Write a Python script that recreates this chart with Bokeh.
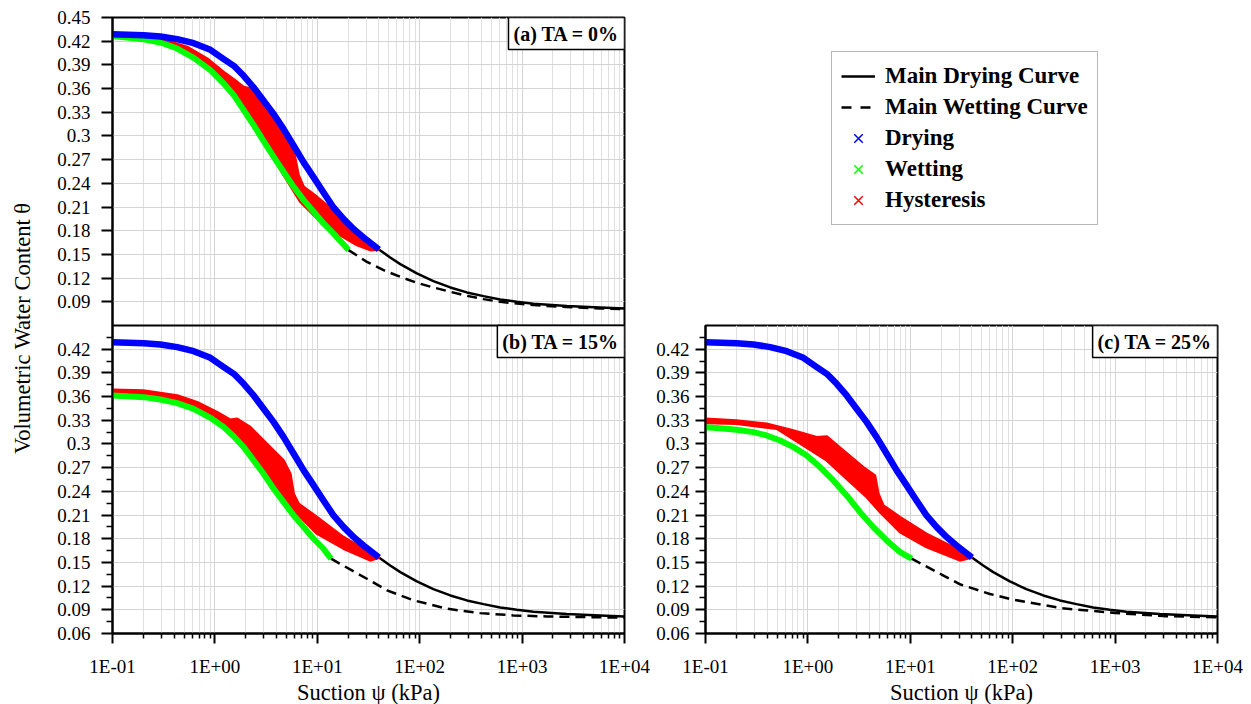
from bokeh.plotting import figure
from bokeh.models import Range1d, FixedTicker, Span, Label, Legend, LegendItem
from bokeh.layouts import row, column
from bokeh.embed import file_html
from bokeh.resources import INLINE

# ---------------- data ----------------
x_ticks = [0.1, 1, 10, 100, 1000, 10000]
x_tick_labels = ["1E-01", "1E+00", "1E+01", "1E+02", "1E+03", "1E+04"]
x_minor = [m * d for d in [0.1, 1, 10, 100, 1000] for m in range(2, 10)]

y_ticks_b = [0.06, 0.09, 0.12, 0.15, 0.18, 0.21, 0.24, 0.27, 0.30, 0.33, 0.36, 0.39, 0.42]
y_labels_b = ["0.06", "0.09", "0.12", "0.15", "0.18", "0.21", "0.24", "0.27", "0.3", "0.33", "0.36", "0.39", "0.42"]
y_minor_b = [0.075, 0.105, 0.135, 0.165, 0.195, 0.225, 0.255, 0.285, 0.315, 0.345, 0.375, 0.405, 0.435]
y_ticks_a = [0.09, 0.12, 0.15, 0.18, 0.21, 0.24, 0.27, 0.30, 0.33, 0.36, 0.39, 0.42, 0.45]
y_labels_a = ["0.09", "0.12", "0.15", "0.18", "0.21", "0.24", "0.27", "0.3", "0.33", "0.36", "0.39", "0.42", "0.45"]

# main drying path (blue points), same in every panel
dry_psi = [0.1, 0.202, 0.294, 0.428, 0.621, 0.904, 1.22, 1.53, 1.91, 2.39, 2.99, 3.75, 4.69,
           5.88, 7.36, 9.21, 11.5, 14.4, 18.1, 22.6, 28.3, 40]
dry_theta = [0.4289, 0.4276, 0.426, 0.4226, 0.4175, 0.4091, 0.3973, 0.3888, 0.3762, 0.3614, 0.3445,
             0.3276, 0.3087, 0.2876, 0.2665, 0.2475, 0.2285, 0.2095, 0.1947, 0.1821, 0.1715, 0.1562]

# main drying curve (black solid) beyond the points
mdc_psi = [40, 51.5, 64.6, 93.8, 136, 199, 289, 420, 610, 887, 1289, 2729, 5768, 10000]
mdc_theta = [0.1562, 0.1462, 0.1377, 0.126, 0.1162, 0.1082, 0.1019, 0.0972, 0.093, 0.09, 0.0875,
             0.0846, 0.0829, 0.0815]

# (a) TA = 0%
wet_a_psi = [0.1, 0.202, 0.294, 0.428, 0.621, 0.904, 1.22, 1.53, 1.91, 2.39, 2.99, 3.75, 4.69,
             5.88, 7.36, 9.21, 11.5, 14.4, 20.2]
wet_a_theta = [0.4267, 0.4225, 0.4183, 0.4107, 0.3989, 0.3833, 0.3664, 0.3516, 0.3327, 0.3137, 0.2934,
               0.2736, 0.2546, 0.2356, 0.2187, 0.204, 0.1892, 0.1765, 0.1555]
mwc_a_psi = [20.2, 30.5, 44.4, 64.6, 93.8, 136, 199, 289, 420, 610, 1289, 2729, 5768, 10000]
mwc_a_theta = [0.1555, 0.1406, 0.1301, 0.1216, 0.114, 0.1082, 0.1027, 0.0976, 0.0934, 0.09, 0.0858,
               0.0833, 0.0816, 0.0807]
hys_a_up_psi = [0.1, 0.294, 0.536, 0.84, 1.22, 1.65, 1.91, 2.22, 2.78, 4.04, 5.66, 6.1, 6.57, 7.36,
                9.93, 15.6, 24.4, 40]
hys_a_up_theta = [0.430, 0.4234, 0.4128, 0.398, 0.381, 0.3685, 0.362, 0.360, 0.346, 0.317, 0.2862,
                  0.2715, 0.2504, 0.2356, 0.2229, 0.2019, 0.1808, 0.1562]
hys_a_lo_psi = [32.9, 24.4, 15.6, 9.93, 6.82, 4.69, 3.23, 2.22, 1.52, 0.9, 0.43, 0.2, 0.1]
hys_a_lo_theta = [0.1554, 0.1618, 0.1766, 0.1956, 0.2166, 0.2504, 0.2842, 0.3178, 0.3516, 0.3854,
                  0.4128, 0.4244, 0.4276]

# (b) TA = 15%
wet_b_psi = [0.1, 0.202, 0.294, 0.428, 0.621, 0.904, 1.22, 1.53, 1.91, 2.39, 2.99, 3.75, 4.69,
             5.88, 7.36, 9.21, 11.5, 13.6]
wet_b_theta = [0.3614, 0.3593, 0.3563, 0.3517, 0.3445, 0.3331, 0.3213, 0.3095, 0.296, 0.2791, 0.2622,
               0.2433, 0.2264, 0.2095, 0.1947, 0.18, 0.1673, 0.1547]
mwc_b_psi = [13.6, 30.5, 48, 87, 184, 389, 822, 1740, 10000]
mwc_b_theta = [0.1547, 0.1293, 0.1146, 0.102, 0.0914, 0.0858, 0.0829, 0.0816, 0.080]
hys_b_up_psi = [0.1, 0.2, 0.43, 0.67, 1.05, 1.42, 1.65, 2.22, 3.23, 4.69, 5.46, 5.88, 6.58, 9.93,
                18.1, 28.3, 40]
hys_b_up_theta = [0.3686, 0.3678, 0.3614, 0.3529, 0.3403, 0.3306, 0.3318, 0.3213, 0.3002, 0.2791,
                  0.2623, 0.237, 0.2243, 0.2074, 0.182, 0.1673, 0.1562]
hys_b_lo_psi = [32.9, 18.1, 9.93, 5.88, 4.04, 2.78, 1.91, 1.22, 0.67, 0.294, 0.1]
hys_b_lo_theta = [0.1525, 0.1673, 0.1863, 0.2158, 0.2411, 0.2665, 0.2939, 0.3213, 0.3458, 0.3593, 0.3635]

# (c) TA = 25%
wet_c_psi = [0.1, 0.139, 0.202, 0.294, 0.396, 0.535, 0.723, 0.974, 1.31, 1.77, 2.39, 3.23, 4.35,
             5.88, 7.93, 10.3]
wet_c_theta = [0.3213, 0.32, 0.3179, 0.315, 0.3108, 0.3044, 0.296, 0.2854, 0.2707, 0.2538, 0.2348,
               0.2137, 0.1947, 0.1778, 0.1631, 0.1547]
mwc_c_psi = [10.3, 20, 31, 60, 100, 300, 1000, 3000, 10000]
mwc_c_theta = [0.1547, 0.135, 0.122, 0.11, 0.103, 0.092, 0.086, 0.082, 0.0805]
hys_c_up_psi = [0.1, 0.2, 0.396, 0.72, 1.22, 1.53, 2.22, 3.48, 4.52, 4.88, 5.46, 7.93, 14.4, 26.3, 39.6]
hys_c_up_theta = [0.3319, 0.3298, 0.3256, 0.3171, 0.3086, 0.3094, 0.2918, 0.2706, 0.2601, 0.237,
                  0.2222, 0.2074, 0.1863, 0.1694, 0.1562]
hys_c_lo_psi = [30.5, 14.4, 7.93, 5.06, 3.75, 2.39, 1.53, 0.9, 0.497, 0.2, 0.1]
hys_c_lo_theta = [0.1525, 0.1694, 0.1884, 0.2137, 0.2327, 0.2559, 0.2791, 0.2981, 0.3192, 0.3256, 0.3264]

panel_labels = ["(a) TA = 0%", "(b) TA = 15%", "(c) TA = 25%"]
legend_labels = ["Main Drying Curve", "Main Wetting Curve", "Drying", "Wetting", "Hysteresis"]

# ---------------- styling ----------------
FONT = "Liberation Serif"
OFF_A = 0.39           # panel (a) is stacked above panel (b) in one frame
GRID = "#d4d4d4"
MINOR_GRID = "#e0e0e0"
BLUE, GREEN, RED = "#0000ff", "#00ff00", "#ff0000"


def shift(vals, off):
    return [round(v + off, 5) for v in vals]


def style(p, yt, ymin, yover):
    p.outline_line_color = "black"
    p.outline_line_width = 2
    xt = FixedTicker(ticks=x_ticks, minor_ticks=x_minor)
    ytk = FixedTicker(ticks=yt, minor_ticks=ymin)
    p.xaxis.ticker = xt
    p.xgrid.ticker = xt
    p.yaxis.ticker = ytk
    p.ygrid.ticker = ytk
    p.xaxis.major_label_overrides = dict(zip(x_ticks, x_tick_labels))
    p.yaxis.major_label_overrides = yover
    p.xgrid.grid_line_color = GRID
    p.xgrid.minor_grid_line_color = MINOR_GRID
    p.ygrid.grid_line_color = GRID
    for ax in (p.xaxis[0], p.yaxis[0]):
        ax.axis_line_width = 2
        ax.axis_line_color = "black"
        ax.major_tick_line_width = 2
        ax.minor_tick_line_width = 1.5
        ax.major_tick_in = 0
        ax.minor_tick_in = 0
        ax.major_label_text_font = FONT
        ax.major_label_text_font_size = "19px"
        ax.major_label_text_color = "black"
        ax.axis_label_text_font = FONT
        ax.axis_label_text_font_size = "22.5px"
        ax.axis_label_text_font_style = "normal"
        ax.axis_label_text_color = "black"
    p.xaxis.major_tick_out = 10
    p.xaxis.minor_tick_out = 5
    p.xaxis.major_label_standoff = 12
    p.xaxis.axis_label = "Suction \u03c8 (kPa)"
    p.xaxis.axis_label_standoff = 0
    p.yaxis.major_tick_out = 11
    p.yaxis.minor_tick_out = 6
    p.yaxis.major_label_standoff = 11


def draw_panel(p, off, wet_psi, wet_theta, mwc_psi, mwc_theta, up_psi, up_theta, lo_psi, lo_theta):
    p.line(mdc_psi, shift(mdc_theta, off), line_color="black", line_width=2.5)
    p.line(mwc_psi, shift(mwc_theta, off), line_color="black", line_width=2.5, line_dash="10 6")
    p.patch(up_psi + lo_psi, shift(up_theta + lo_theta, off), fill_color=RED, line_color=RED,
            line_width=2.5, line_join="round")
    p.line(wet_psi, shift(wet_theta, off), line_color=GREEN, line_width=6, line_join="round")
    p.line(dry_psi, shift(dry_theta, off), line_color=BLUE, line_width=6.5, line_join="round")


def panel_label(p, text, y):
    p.add_layout(Label(x=10000, y=y, text=text, text_font=FONT, text_font_style="bold",
                       text_font_size="20px", text_color="black", text_align="right",
                       text_baseline="top", padding=5, border_line_color="black",
                       border_line_width=1.5, background_fill_color="white",
                       background_fill_alpha=1.0))


# ---------------- left figure: panels (a) over (b) ----------------
left = figure(x_axis_type="log", x_range=Range1d(0.1, 10000), y_range=Range1d(0.06, 0.84),
              frame_width=512, frame_height=616, min_border_left=112, min_border_right=28,
              min_border_top=17, min_border_bottom=70, output_backend="svg",
              toolbar_location=None, background_fill_color="white", border_fill_color="white")
yt_left = y_ticks_b + shift(y_ticks_a, OFF_A)
yover_left = dict(zip(yt_left, y_labels_b + y_labels_a))
style(left, yt_left, y_minor_b, yover_left)
left.yaxis.axis_label = "Volumetric Water Content  \u03b8"
left.yaxis.axis_label_standoff = 19

draw_panel(left, OFF_A, wet_a_psi, wet_a_theta, mwc_a_psi, mwc_a_theta,
           hys_a_up_psi, hys_a_up_theta, hys_a_lo_psi, hys_a_lo_theta)
draw_panel(left, 0.0, wet_b_psi, wet_b_theta, mwc_b_psi, mwc_b_theta,
           hys_b_up_psi, hys_b_up_theta, hys_b_lo_psi, hys_b_lo_theta)
left.add_layout(Span(location=0.45, dimension="width", line_color="black", line_width=2))
panel_label(left, panel_labels[0], 0.84)
panel_label(left, panel_labels[1], 0.45)

# ---------------- right figure: panel (c) ----------------
pc = figure(x_axis_type="log", x_range=Range1d(0.1, 10000), y_range=Range1d(0.06, 0.45),
            frame_width=512, frame_height=308, min_border_left=53, min_border_right=26,
            min_border_top=25, min_border_bottom=70, output_backend="svg",
            toolbar_location=None, background_fill_color="white", border_fill_color="white")
style(pc, y_ticks_b, y_minor_b, dict(zip(y_ticks_b, y_labels_b)))
pc.yaxis.major_tick_out = 10
pc.yaxis.major_label_standoff = 6
draw_panel(pc, 0.0, wet_c_psi, wet_c_theta, mwc_c_psi, mwc_c_theta,
           hys_c_up_psi, hys_c_up_theta, hys_c_lo_psi, hys_c_lo_theta)
panel_label(pc, panel_labels[2], 0.45)

# ---------------- legend figure ----------------
lg = figure(width=591, height=300, x_range=Range1d(0, 1), y_range=Range1d(0, 1),
            x_axis_location=None, y_axis_location=None, min_border=0,
            output_backend="svg", toolbar_location=None)
lg.grid.visible = False
lg.outline_line_color = None
off_x, off_y = [-10, -9], [-10, -9]   # keep the legend's sample glyphs out of view
r1 = lg.line(off_x, off_y, line_color="black", line_width=2.5)
r2 = lg.line(off_x, off_y, line_color="black", line_width=2.5, line_dash="10 9")
r3 = lg.scatter(off_x, off_y, marker="x", size=5, line_color=BLUE, line_width=1.5)
r4 = lg.scatter(off_x, off_y, marker="x", size=5, line_color=GREEN, line_width=1.5)
r5 = lg.scatter(off_x, off_y, marker="x", size=5, line_color=RED, line_width=1.5)
legend = Legend(items=[LegendItem(label=t, renderers=[r]) for t, r in zip(legend_labels, [r1, r2, r3, r4, r5])],
                location=(126, 75), margin=0, padding=9, spacing=1,
                glyph_width=34, glyph_height=30, label_height=30, label_standoff=10,
                label_text_font=FONT, label_text_font_style="bold", label_text_font_size="23px",
                label_text_color="black", border_line_color="#707070", border_line_width=1.5,
                background_fill_color="white", background_fill_alpha=1.0)
lg.add_layout(legend)

layout = row(left, column(lg, pc))
open("out.html", "w").write(file_html(layout, INLINE))
